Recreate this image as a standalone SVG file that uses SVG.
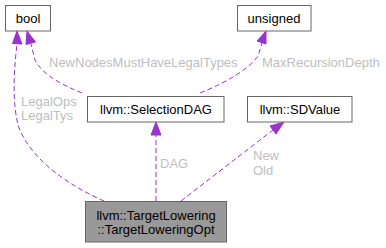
<svg xmlns="http://www.w3.org/2000/svg" width="386" height="248" viewBox="0 0 386 248">
  <style>
    .node rect { fill: #ffffff; stroke: #666666; stroke-width: 1; }
    .node.main rect { fill: #999999; }
    .node text { font-family: "Liberation Sans", Arial, sans-serif; font-size: 13px; fill: #000000; text-anchor: middle; }
    .edge path { fill: none; stroke: #9a32cd; stroke-width: 1; stroke-dasharray: 5,3; }
    .edge polygon { fill: #9a32cd; stroke: #9a32cd; stroke-width: 1; }
    .edge text { font-family: "Liberation Sans", Arial, sans-serif; font-size: 13px; fill: #bebebe; }
  </style>

  <g id="edges">
    <!-- TargetLoweringOpt -> bool (LegalOps / LegalTys) -->
    <g class="edge" id="edge_legal">
      <path d="M104,201 C70,186 30,160 18,125 C12,100 14,70 17,44"/>
      <polygon points="12.5,43.5 17,31 22,44"/>
      <text x="21" y="106">LegalOps</text>
      <text x="21" y="120">LegalTys</text>
    </g>
    <!-- SelectionDAG -> bool -->
    <g class="edge" id="edge_newnodes">
      <path d="M82,93 C60,84 42,74 35,60 L31,44"/>
      <polygon points="26,44.5 27,31 35.5,42"/>
      <text x="49" y="67">NewNodesMustHaveLegalTypes</text>
    </g>
    <!-- SelectionDAG -> unsigned -->
    <g class="edge" id="edge_maxrec">
      <path d="M200,93 C225,83 248,70 258,56 L262,43"/>
      <polygon points="257,41 266,31 266,44"/>
      <text x="262" y="67">MaxRecursionDepth</text>
    </g>
    <!-- TargetLoweringOpt -> SelectionDAG -->
    <g class="edge" id="edge_dag">
      <path d="M156,201 L156,135"/>
      <polygon points="151,135 156,122 161,135"/>
      <text x="160" y="168">DAG</text>
    </g>
    <!-- TargetLoweringOpt -> SDValue -->
    <g class="edge" id="edge_sdvalue">
      <path d="M181,201 L273,130"/>
      <polygon points="270,126 284,122 276,134"/>
      <text x="253" y="160">New</text>
      <text x="253" y="175">Old</text>
    </g>
  </g>

  <g class="node" id="node_bool">
    <rect x="5.5" y="5.5" width="45" height="25.5"/>
    <text x="28" y="22.5">bool</text>
  </g>
  <g class="node" id="node_unsigned">
    <rect x="237.5" y="5.5" width="73.5" height="25.5"/>
    <text x="274" y="22.5">unsigned</text>
  </g>
  <g class="node" id="node_selectiondag">
    <rect x="87.5" y="96.5" width="136.5" height="25.5"/>
    <text x="156" y="113.5">llvm::SelectionDAG</text>
  </g>
  <g class="node" id="node_sdvalue">
    <rect x="247.5" y="96.5" width="104.5" height="25.5"/>
    <text x="300" y="113.5">llvm::SDValue</text>
  </g>
  <g class="node main" id="node_targetloweringopt">
    <rect x="85.5" y="201.5" width="141" height="40.5"/>
    <text x="156" y="220">llvm::TargetLowering</text>
    <text x="156" y="234">::TargetLoweringOpt</text>
  </g>
</svg>
